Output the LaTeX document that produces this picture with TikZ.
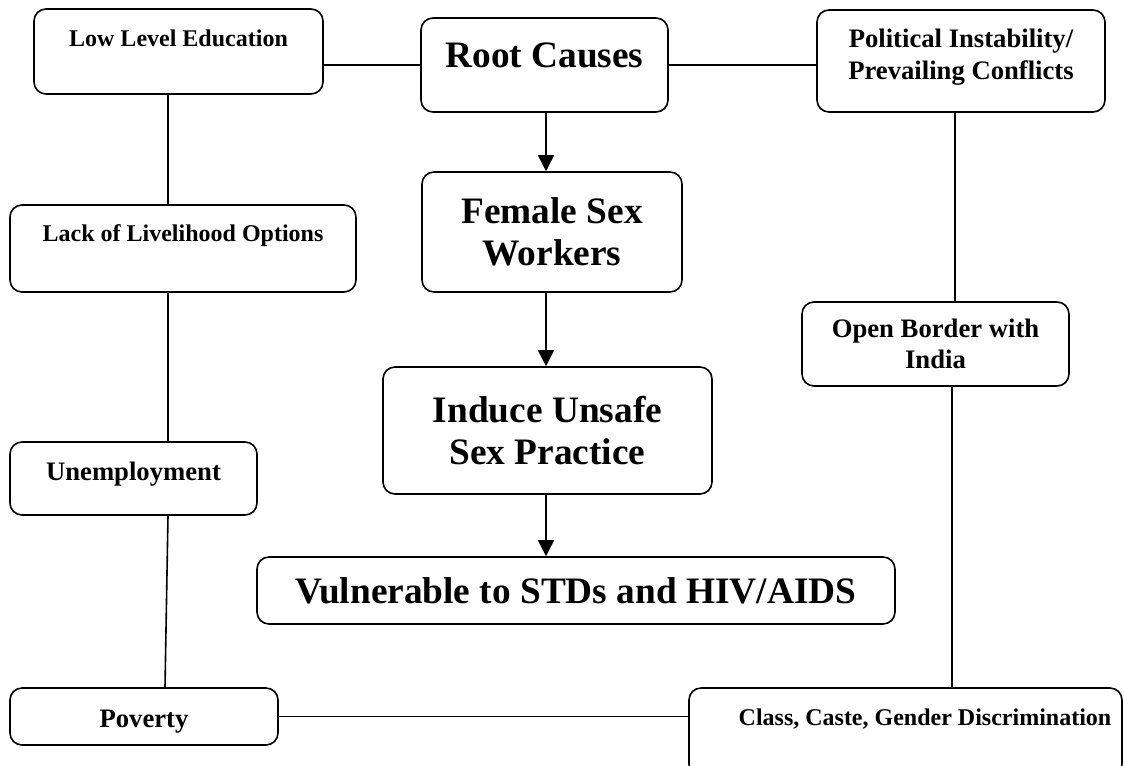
\documentclass[tikz,border=0pt]{standalone}
\usepackage{fontspec}
\setmainfont{Liberation Serif}
\usetikzlibrary{shapes, arrows.meta}
\tikzstyle{smallbox} = [rectangle, rounded corners=9pt, draw=black, line width=1.2pt, inner sep=0pt, align=center, font=\fontsize{18}{22}\selectfont\bfseries]
\tikzstyle{midbox} = [smallbox, font=\fontsize{20}{23.5}\selectfont\bfseries]
\tikzstyle{bigbox} = [smallbox, font=\fontsize{28}{31.5}\selectfont\bfseries]
\tikzstyle{line} = [line width=1.2pt]
\tikzstyle{arrow} = [line width=1.2pt,-{Triangle[length=12pt,width=12pt]}]

\begin{document}
\begin{tikzpicture}[x=0.75pt,y=-0.75pt]
    \useasboundingbox (0,0) rectangle (1124,765);
    % causes round the edge
    \node (lowedu) [smallbox, minimum width=216.75pt, text height=27.75pt, text depth=36pt] at (178.5,51.5) {Low Level Education};
    \node (political) [midbox, minimum width=216pt, text height=51.75pt, text depth=24.75pt] at (961,61) {Political Instability/\\Prevailing Conflicts};
    \node (livelihood) [smallbox, minimum width=259.5pt, text height=27pt, text depth=38.25pt] at (183,248.5) {Lack of Livelihood Options};
    \node (openborder) [midbox, minimum width=200.25pt, minimum height=63pt] at (935.5,344) {Open Border with\\India};
    \node (unemploy) [midbox, minimum width=185.25pt, text height=28.5pt, text depth=26.25pt] at (133.5,478.5) {Unemployment};
    \node (poverty) [midbox, minimum width=201pt, text height=29.25pt, text depth=13.5pt] at (144,716.5) {Poverty};
    \node (discrim) [smallbox, minimum width=324.75pt, text height=27.75pt, text depth=38.25pt] at (905.5,732) {\hspace*{29.25pt}Class, Caste, Gender Discrimination};
    % middle chain
    \node (root) [bigbox, minimum width=185.25pt, text height=36.75pt, text depth=33.75pt] at (544.5,65) {Root Causes};
    \node (femalesw) [bigbox, minimum width=195pt, minimum height=90pt] at (552,232) {Female Sex\\Workers};
    \node (unsafe) [bigbox, minimum width=246.75pt, minimum height=95.25pt] at (547.5,430.5) {Induce Unsafe\\Sex Practice};
    \node (vulnerable) [bigbox, minimum width=478.5pt, text height=34.5pt, text depth=15.75pt] at (576,590.5) {Vulnerable to STDs and HIV/AIDS};

    \coordinate (lefttrunk) at (168,0);
    \coordinate (lowtrunk) at (165,0);
    \coordinate (righttrunk) at (955,0);
    \coordinate (openexit) at (952,0);
    \coordinate (midtrunk) at (546,0);

    \draw [line] (root.west -| lowedu.east) -- (root.west);
    \draw [line] (root.east) -- (root.east -| political.west);
    \draw [line] (lowedu.south -| lefttrunk) -- (livelihood.north -| lefttrunk);
    \draw [line] (livelihood.south -| lefttrunk) -- (unemploy.north -| lefttrunk);
    \draw [line] (unemploy.south -| lefttrunk) -- (poverty.north -| lowtrunk);
    \draw [line] (poverty.east) -- (poverty.east -| discrim.west);
    \draw [line] (political.south -| righttrunk) -- (openborder.north -| righttrunk);
    \draw [line] (openborder.south -| openexit) -- (discrim.north -| openexit);
    \draw [arrow] (root.south -| midtrunk) -- (femalesw.north -| midtrunk);
    \draw [arrow] (femalesw.south -| midtrunk) -- (unsafe.north -| midtrunk);
    \draw [arrow] (unsafe.south -| midtrunk) -- (vulnerable.north -| midtrunk);
\end{tikzpicture}
\end{document}
